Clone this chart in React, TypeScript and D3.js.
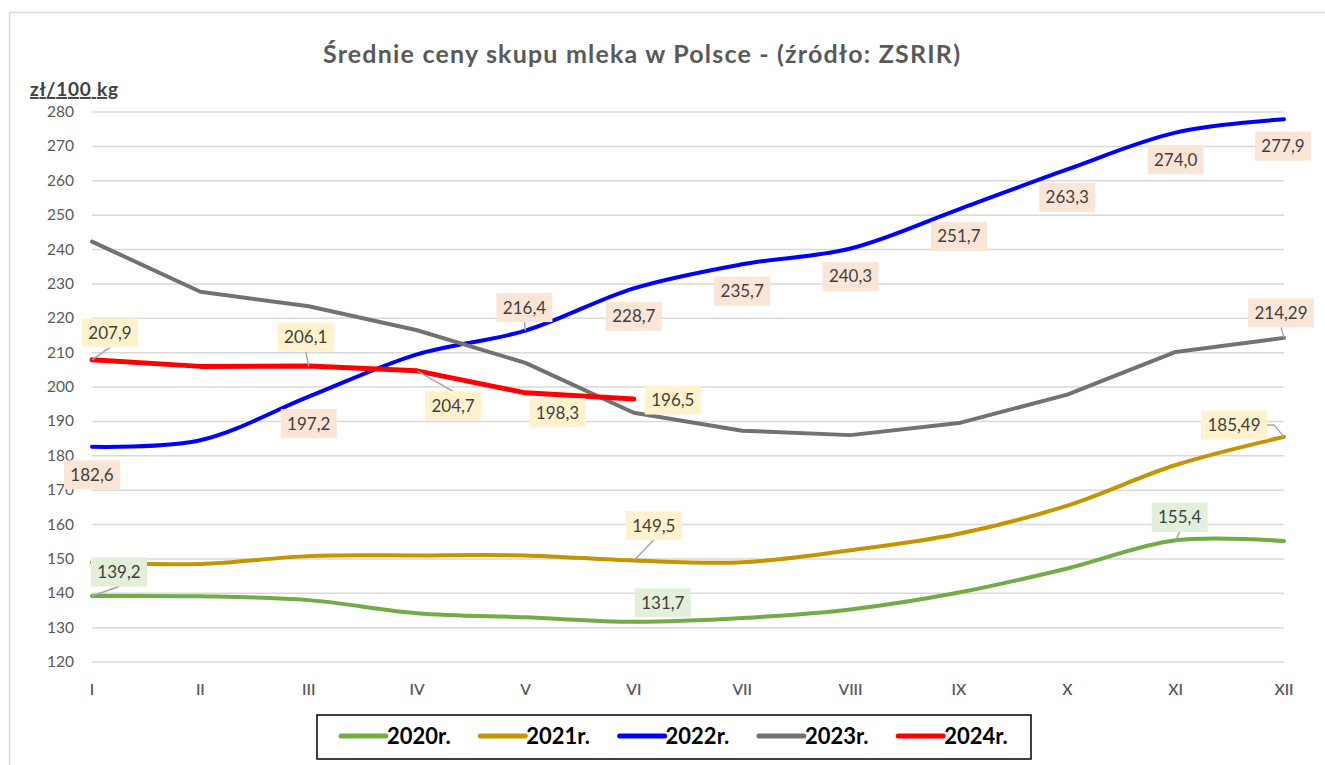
import React from "react";
import * as d3 from "d3";

const months = ["I", "II", "III", "IV", "V", "VI", "VII", "VIII", "IX", "X", "XI", "XII"];
const yTicks = [120, 130, 140, 150, 160, 170, 180, 190, 200, 210, 220, 230, 240, 250, 260, 270, 280];

const v2020 = [139.2, 139.1, 138.0, 134.2, 133.0, 131.7, 132.8, 135.3, 140.2, 147.2, 155.4, 155.2];
const v2021 = [149.0, 148.5, 150.8, 151.0, 151.0, 149.5, 149.0, 152.5, 157.3, 165.5, 177.3, 185.49];
const v2022 = [182.6, 184.5, 197.2, 209.5, 216.4, 228.7, 235.7, 240.3, 251.7, 263.3, 274.0, 277.9];
const v2023 = [242.3, 227.7, 223.5, 216.5, 207.0, 192.5, 187.3, 186.0, 189.5, 197.8, 210.2, 214.29];
const v2024 = [207.9, 206.0, 206.1, 204.7, 198.3, 196.5];

const seriesNames = ["2020r.", "2021r.", "2022r.", "2023r.", "2024r."];

// label config: month index, text, offset of box centre from the point, leader line
type Lab = { i: number; text: string; dx: number; dy: number; leader?: boolean };
const labels2020: Lab[] = [
  { i: 0, text: "139,2", dx: 27, dy: -24, leader: true },
  { i: 5, text: "131,7", dx: 29, dy: -19 },
  { i: 10, text: "155,4", dx: 4, dy: -23, leader: true },
];
const labels2021: Lab[] = [
  { i: 5, text: "149,5", dx: 20, dy: -35, leader: true },
  { i: 11, text: "185,49", dx: -50, dy: -12, leader: true },
];
const labels2022: Lab[] = [
  { i: 0, text: "182,6", dx: 0, dy: 28 },
  { i: 2, text: "197,2", dx: 0, dy: 27 },
  { i: 4, text: "216,4", dx: -1, dy: -23, leader: true },
  { i: 5, text: "228,7", dx: 0, dy: 28 },
  { i: 6, text: "235,7", dx: 0, dy: 27 },
  { i: 7, text: "240,3", dx: 0, dy: 28 },
  { i: 8, text: "251,7", dx: 0, dy: 27 },
  { i: 9, text: "263,3", dx: 0, dy: 28 },
  { i: 10, text: "274,0", dx: 0, dy: 27 },
  { i: 11, text: "277,9", dx: -1, dy: 27 },
];
const labels2023: Lab[] = [{ i: 11, text: "214,29", dx: -3, dy: -25, leader: true }];
const labels2024: Lab[] = [
  { i: 0, text: "207,9", dx: 18, dy: -27, leader: true },
  { i: 2, text: "206,1", dx: -3, dy: -29, leader: true },
  { i: 3, text: "204,7", dx: 36, dy: 35, leader: true },
  { i: 4, text: "198,3", dx: 32, dy: 20 },
  { i: 5, text: "196,5", dx: 39, dy: 1 },
];

const series = [
  { name: seriesNames[0], values: v2020, color: "#70AD47", width: 4, smooth: true, labels: labels2020, fill: "#E2EFDA" },
  { name: seriesNames[1], values: v2021, color: "#C49500", width: 4, smooth: true, labels: labels2021, fill: "#FFF2CC" },
  { name: seriesNames[2], values: v2022, color: "#0000FF", width: 4, smooth: true, labels: labels2022, fill: "#FBE5D6" },
  { name: seriesNames[3], values: v2023, color: "#767171", width: 4, smooth: false, labels: labels2023, fill: "#FBE5D6" },
  { name: seriesNames[4], values: v2024, color: "#FF0000", width: 5, smooth: false, labels: labels2024, fill: "#FFF2CC" },
];

const FONT = "Lato, 'Open Sans', sans-serif";

export default function App() {
  const W = 1325;
  const H = 765;
  const x = d3.scalePoint<string>().domain(months).range([92, 1284]);
  const y = d3.scaleLinear().domain([120, 280]).range([662, 112]);

  const mkLine = (smooth: boolean) =>
    d3
      .line<number>()
      .x((_, i) => x(months[i]) as number)
      .y((d) => y(d))
      .curve(smooth ? d3.curveCatmullRom.alpha(0.5) : d3.curveLinear);

  const boxH = 29;
  const boxW = (t: string) => t.length * 10 + 6;

  return (
    <svg width={W} height={H} style={{ position: "absolute", left: 0, top: 0, background: "#fff" }}>
      <rect x={0} y={0} width={W} height={H} fill="#fff" />
      {/* frame */}
      <path d={`M9.5,${H} V12.5 H${W}`} fill="none" stroke="#D9D9D9" strokeWidth={1.5} />
      {/* title */}
      <text x={323} y={63} textLength={637} lengthAdjust="spacing" fontFamily={FONT} fontWeight={700} fontSize={25} fill="#595959">
        Średnie ceny skupu mleka w Polsce - (źródło: ZSRIR)
      </text>
      <text x={30} y={96} textLength={88} lengthAdjust="spacing" fontFamily={FONT} fontWeight={700} fontSize={19} fill="#404040" textDecoration="underline">
        zł/100 kg
      </text>
      {/* gridlines */}
      {yTicks.map((t) => (
        <g key={t}>
          <line x1={92} x2={1284} y1={y(t)} y2={y(t)} stroke="#D9D9D9" strokeWidth={1.5} />
          <text x={74} y={y(t) + 5} textAnchor="end" fontFamily={FONT} fontSize={15.5} fill="#595959">
            {t}
          </text>
        </g>
      ))}
      {months.map((m) => (
        <text key={m} x={x(m)} y={695} textAnchor="middle" fontFamily={FONT} fontSize={15.5} fontWeight={600} fill="#595959">
          {m}
        </text>
      ))}
      {/* lines */}
      {series.map((s) => (
        <path
          key={s.name}
          d={mkLine(s.smooth)(s.values) || ""}
          fill="none"
          stroke={s.color}
          strokeWidth={s.width}
          strokeLinejoin="round"
          strokeLinecap="round"
        />
      ))}
      {/* labels */}
      {series.map((s) =>
        s.labels.map((l) => {
          const px = x(months[l.i]) as number;
          const py = y(s.values[l.i]);
          const cx = px + l.dx;
          const cy = py + l.dy;
          const w = boxW(l.text);
          let leader = "";
          if (l.leader) {
            if (Math.abs(l.dy) > boxH / 2) {
              const ay = l.dy < 0 ? cy + boxH / 2 : cy - boxH / 2;
              leader = `M${px},${py} L${cx},${ay}`;
            } else {
              const ax = l.dx < 0 ? cx + w / 2 : cx - w / 2;
              const bx = l.dx < 0 ? ax + 7 : ax - 7;
              leader = `M${ax},${cy} L${bx},${cy} L${px},${py}`;
            }
          }
          return (
            <g key={s.name + l.i}>
              {leader && <path d={leader} fill="none" stroke="#A6A6A6" strokeWidth={1.5} />}
              <rect x={cx - w / 2} y={cy - boxH / 2} width={w} height={boxH} fill={s.fill} />
              <text x={cx} y={cy + 6} textAnchor="middle" fontFamily={FONT} fontSize={17} fill="#404040">
                {l.text}
              </text>
            </g>
          );
        })
      )}
      {/* legend */}
      <rect x={317} y={715} width={714} height={44} fill="#fff" stroke="#000" strokeWidth={1.5} />
      {series.map((s, k) => {
        const lx = 341 + k * 139.3;
        return (
          <g key={"lg" + s.name}>
            <line x1={lx} x2={lx + 45} y1={736} y2={736} stroke={s.color} strokeWidth={5} strokeLinecap="round" />
            <text x={lx + 46} y={744} fontFamily={FONT} fontWeight={700} fontSize={22} fill="#000">
              {s.name}
            </text>
          </g>
        );
      })}
    </svg>
  );
}
